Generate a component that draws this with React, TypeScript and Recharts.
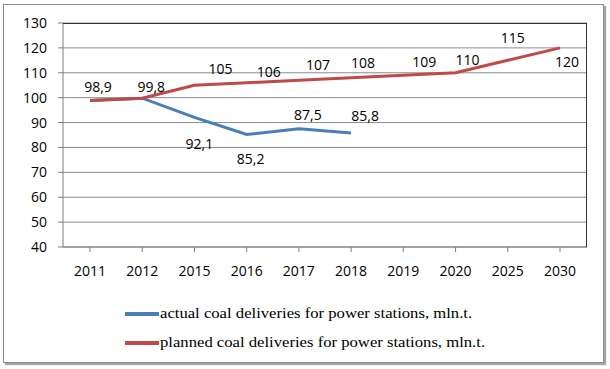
import React from "react";
import {
  LineChart,
  Line,
  XAxis,
  YAxis,
  CartesianGrid,
  LabelList
} from "recharts";

const years = ["2011", "2012", "2015", "2016", "2017", "2018", "2019", "2020", "2025", "2030"];
const actual = [98.9, 99.8, 92.1, 85.2, 87.5, 85.8, null, null, null, null];
const planned = [98.9, 99.8, 105, 106, 107, 108, 109, 110, 115, 120];
const yTicks = [40, 50, 60, 70, 80, 90, 100, 110, 120, 130];

// label placement relative to each point [dx, dy]; null = no label
const plannedLabelShift = [
  [8, -14], [9, -12], [26, -17], [22, -11], [19, -16],
  [12, -15], [21, -14], [12, -13], [5, -23], [7, 14]
];
const actualLabelShift = [null, null, [5, 26], [4, 24], [9, -14], [14, -18], null, null, null, null];

const data = years.map((year, i) => ({ year, actual: actual[i], planned: planned[i] }));

const BLUE = "#4a7ebb";
const RED = "#be4b48";
const FONT = "'Open Sans', sans-serif";

const fmt = (v: number) => String(v).replace(".", ",");

function makeLabel(shifts: (number[] | null)[]) {
  return (props: any) => {
    const { x, y, value, index } = props;
    const s = shifts[index];
    if (!s || value == null) return null;
    return (
      <text
        x={x + s[0]}
        y={y + s[1]}
        textAnchor="middle"
        dominantBaseline="central"
        fontSize={14}
        fontFamily={FONT}
        fill="#000"
      >
        {fmt(value)}
      </text>
    );
  };
}

function LegendBox() {
  const items = [
    { color: BLUE, text: "actual coal deliveries for power stations, mln.t." },
    { color: RED, text: "planned coal deliveries for power stations, mln.t." }
  ];
  return (
    <div
      style={{
        position: "absolute",
        left: 125,
        top: 299,
        fontFamily: "'Liberation Serif', serif",
        fontSize: 15,
        color: "#000",
        whiteSpace: "nowrap"
      }}
    >
      {items.map((it) => (
        <div key={it.text} style={{ display: "flex", alignItems: "center", height: 29 }}>
          <span style={{ display: "inline-block", width: 34, height: 4, background: it.color, marginRight: 1 }} />
          <span style={{ display: "inline-block", transform: "scaleX(1.11)", transformOrigin: "left center" }}>
            {it.text}
          </span>
        </div>
      ))}
    </div>
  );
}

export default function App() {
  return (
    <div style={{ position: "absolute", left: 0, top: 0, width: 610, height: 369, background: "#fff" }}>
      <div
        style={{
          position: "absolute",
          left: 3,
          top: 4,
          width: 599,
          height: 357,
          border: "1px solid #8a8a8a",
          boxShadow: "2px 2px 1px #a6a6a6"
        }}
      />
      <div style={{ position: "absolute", left: 0, top: 0 }}>
        <LineChart
          width={610}
          height={369}
          data={data}
          margin={{ top: 23, right: 23, left: 0, bottom: 92 }}
        >
          <CartesianGrid vertical={false} stroke="#8c8c8c" strokeWidth={1} />
          <XAxis
            dataKey="year"
            padding={{ left: 27, right: 27 }}
            height={30}
            axisLine={{ stroke: "#7f7f7f" }}
            tickLine={{ stroke: "#7f7f7f" }}
            tickSize={5}
            tickMargin={14}
            tick={{ fontSize: 14, fontFamily: FONT, fill: "#000" }}
            interval={0}
          />
          <YAxis
            domain={[40, 130]}
            ticks={yTicks}
            width={63}
            interval={0}
            axisLine={{ stroke: "#7f7f7f" }}
            tickLine={{ stroke: "#7f7f7f" }}
            tickSize={5}
            tickMargin={11}
            tick={{ fontSize: 14, fontFamily: FONT, fill: "#000" }}
          />
          <Line
            type="linear"
            dataKey="actual"
            stroke={BLUE}
            strokeWidth={3}
            dot={false}
            connectNulls={false}
            isAnimationActive={false}
          >
            <LabelList dataKey="actual" content={makeLabel(actualLabelShift)} />
          </Line>
          <Line
            type="linear"
            dataKey="planned"
            stroke={RED}
            strokeWidth={3}
            dot={false}
            isAnimationActive={false}
          >
            <LabelList dataKey="planned" content={makeLabel(plannedLabelShift)} />
          </Line>
        </LineChart>
      </div>
      <LegendBox />
      {/* dark frame on top and right of plot area */}
      <div
        style={{
          position: "absolute",
          left: 63,
          top: 23,
          width: 523,
          height: 223,
          borderTop: "1px solid #333",
          borderRight: "1px solid #333",
          pointerEvents: "none"
        }}
      />
    </div>
  );
}
